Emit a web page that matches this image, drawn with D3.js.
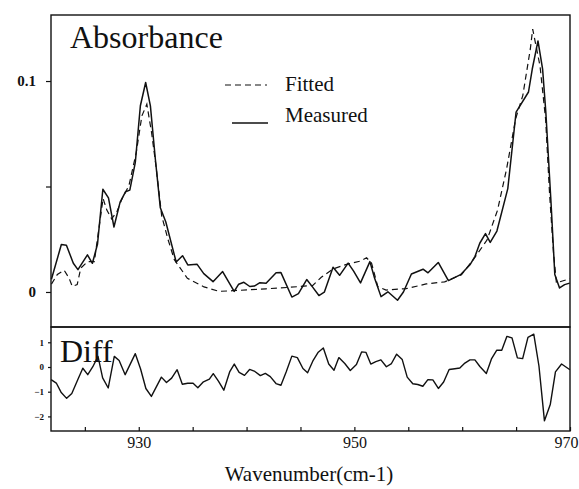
<!DOCTYPE html>
<html>
<head>
<meta charset="utf-8">
<script src="https://cdn.jsdelivr.net/npm/d3@7"></script>
<style>
  html, body { margin: 0; padding: 0; background: #fff; }
  svg { display: block; }
</style>
</head>
<body>
<svg id="chart" width="579" height="489"></svg>
<script>
// Measured absorbance spectrum (wavenumber in cm-1, absorbance)
const measuredX = [921.9, 922.82, 923.29, 923.93, 924.36, 925.24, 925.70, 926.17, 926.67, 927.19,
  927.70, 928.27, 928.77, 929.17, 929.68, 930.15, 930.64, 931.08, 931.54, 932.00,
  932.51, 933.47, 934.06, 934.55, 935.40, 936.03, 936.89, 937.78, 938.85, 939.27,
  939.75, 940.30, 940.72, 941.24, 941.81, 942.74, 943.19, 944.20, 944.81, 945.58,
  946.13, 946.71, 947.21, 948.02, 948.63, 949.42, 949.93, 950.57, 951.44, 951.87,
  952.47, 953.11, 954.00, 954.55, 955.29, 956.37, 956.83, 957.78, 958.72, 959.85,
  960.72, 961.19, 961.63, 962.16, 962.60, 963.22, 964.23, 965.00, 966.15, 966.50,
  967.03, 967.46, 967.76, 968.24, 968.59, 969.03, 969.50, 969.97];
const measuredY = [0.0060, 0.0225, 0.0222, 0.0136, 0.0106, 0.0176, 0.0136, 0.0226, 0.0487, 0.0446,
  0.0308, 0.0426, 0.0475, 0.0483, 0.0614, 0.0883, 0.0993, 0.0882, 0.0629, 0.0399,
  0.0332, 0.0142, 0.0172, 0.0128, 0.0132, 0.0087, 0.0049, 0.0097, 0.0003, 0.0037,
  0.0046, 0.0026, 0.0028, 0.0044, 0.0041, 0.0091, 0.0092, -0.0024, -0.0008, 0.0059,
  0.0023, -0.0017, -0.0001, 0.0117, 0.0079, 0.0137, 0.0099, 0.0043, 0.0144, 0.0066,
  -0.0022, 0.0001, -0.0039, 0.0000, 0.0085, 0.0108, 0.0091, 0.0140, 0.0054, 0.0082,
  0.0129, 0.0169, 0.0231, 0.0277, 0.0235, 0.0289, 0.0490, 0.0853, 0.0948, 0.1057,
  0.1190, 0.1056, 0.0850, 0.0423, 0.0083, 0.0019, 0.0035, 0.0042];

// Fitted absorbance model
const fittedX = [921.9, 922.45, 923.08, 923.53, 923.83, 924.29, 924.62, 925.26, 925.88, 926.22,
  926.69, 927.04, 927.48, 927.96, 928.45, 929.09, 929.77, 930.29, 930.75, 931.19,
  931.60, 932.13, 932.72, 933.30, 934.51, 936.05, 937.46, 938.70, 941.80, 943.97,
  946.14, 946.93, 948.01, 949.27, 950.51, 951.13, 951.59, 952.17, 952.94, 954.80,
  956.66, 958.37, 959.93, 961.03, 962.30, 963.28, 964.12, 964.96, 965.62, 966.32,
  966.54, 967.22, 967.74, 968.10, 968.47, 968.74, 969.67, 969.97];
const fittedY = [0.0037, 0.0083, 0.0103, 0.0066, 0.0027, 0.0035, 0.0113, 0.0144, 0.0144, 0.0270,
  0.0443, 0.0388, 0.0347, 0.0379, 0.0442, 0.0504, 0.0662, 0.0835, 0.0890, 0.0755,
  0.0597, 0.0360, 0.0248, 0.0153, 0.0065, 0.0024, 0.0003, 0.0006, 0.0015, 0.0022,
  0.0031, 0.0070, 0.0109, 0.0131, 0.0146, 0.0162, 0.0137, 0.0026, 0.0009, 0.0016,
  0.0038, 0.0048, 0.0082, 0.0153, 0.0246, 0.0388, 0.0584, 0.0821, 0.0931, 0.1152,
  0.1246, 0.1071, 0.0818, 0.0470, 0.0186, 0.0043, 0.0058, 0.0063];

// Residual (measured - fitted), scaled
const diffX = [921.87, 922.35, 922.79, 923.31, 923.79, 924.33, 924.81, 925.27, 925.74, 926.22,
  926.65, 927.17, 927.73, 928.18, 928.74, 929.68, 930.17, 930.66, 931.17, 932.10,
  932.57, 933.05, 933.56, 934.04, 934.54, 935.04, 935.48, 936.00, 936.55, 936.91,
  937.39, 937.89, 938.43, 938.86, 939.31, 939.81, 940.28, 940.77, 941.28, 941.74,
  942.20, 942.73, 943.19, 943.68, 944.20, 944.71, 945.23, 945.66, 946.18, 946.65,
  947.12, 947.62, 948.11, 948.56, 949.11, 949.62, 950.19, 950.67, 951.08, 951.52,
  951.99, 952.46, 952.97, 953.44, 953.92, 954.44, 954.90, 955.42, 955.88, 956.35,
  956.82, 957.28, 957.79, 958.28, 958.79, 959.32, 959.78, 960.25, 960.72, 961.18,
  961.64, 962.24, 962.73, 963.21, 963.67, 964.15, 964.62, 965.12, 965.61, 966.10,
  966.64, 967.12, 967.63, 968.17, 968.65, 969.22, 969.99];
const diffY = [-0.51, -0.65, -1.02, -1.27, -1.07, -0.53, -0.05, -0.31, 0.01, 0.43,
  -0.44, -0.85, 0.43, 0.26, -0.31, 0.54, -0.08, -0.87, -1.19, -0.41,
  -0.63, -0.45, -0.11, -0.70, -0.66, -0.66, -0.84, -0.60, -0.49, -0.27,
  -0.57, -0.94, -0.20, 0.12, -0.22, -0.34, -0.10, -0.18, -0.35, -0.26,
  -0.39, -0.67, -0.74, -0.19, 0.44, 0.38, -0.06, -0.23, 0.27, 0.60,
  0.77, 0.12, -0.13, 0.38, 0.14, -0.14, 0.10, 0.61, 0.59, 0.12,
  0.22, 0.29, 0.01, 0.14, 0.52, 0.30, -0.41, -0.68, -0.71, -0.78,
  -0.51, -0.52, -0.87, -0.61, -0.10, -0.07, -0.04, 0.16, 0.29, 0.29,
  0.02, -0.26, 0.34, 0.68, 0.68, 1.24, 1.18, 0.37, 0.34, 1.20,
  1.33, 0.04, -2.18, -1.52, -0.20, 0.12, -0.11];

// Axis ticks and labels
const xTicks = [925, 930, 935, 940, 945, 950, 955, 960, 965, 970];
const xTickLabels = [930, 950, 970];
const absTicks = [0, 0.05, 0.1];
const absTickLabels = [0, 0.1];
const diffTicks = [-2, -1, 0, 1];
const legendLabels = ["Fitted", "Measured"];

const SERIF = "Liberation Serif, Times New Roman, Times, serif";
const svg = d3.select("#chart").attr("font-family", SERIF);
const L = 51, R = 570, T = 15, M = 327, B = 431;

const x = d3.scaleLinear().domain([921.86, 970]).range([L, R]);
const yAbs = d3.scaleLinear().domain([-0.0166, 0.1313]).range([M, T]);
const yDiff = d3.scaleLinear().domain([-2.591, 1.619]).range([B, M]);

const ink = "#111";

// Panel frames
svg.append("rect").attr("x", L).attr("y", T).attr("width", R - L).attr("height", M - T)
  .attr("fill", "none").attr("stroke", ink).attr("stroke-width", 1.4);
svg.append("rect").attr("x", L).attr("y", M).attr("width", R - L).attr("height", B - M)
  .attr("fill", "none").attr("stroke", ink).attr("stroke-width", 1.4);

// Bottom axis: inward ticks every 5 cm-1, labels at 930/950/970
const xAxis = d3.axisBottom(x).tickValues(xTicks).tickSizeInner(-4).tickSizeOuter(0)
  .tickFormat(d => xTickLabels.includes(d) ? String(d) : "");
const gx = svg.append("g").attr("transform", `translate(0,${B})`).call(xAxis)
  .attr("font-family", SERIF);
gx.select(".domain").remove();
gx.selectAll("line").attr("stroke", ink).attr("stroke-width", 1.2);
gx.selectAll("text").attr("font-family", SERIF).attr("font-size", 16)
  .attr("fill", ink).attr("y", 17).attr("dy", 0)
  .attr("dx", d => d === 970 ? -4 : 0);

// Absorbance axis
const yAxisAbs = d3.axisLeft(yAbs).tickValues(absTicks).tickSizeInner(5).tickSizeOuter(0)
  .tickPadding(10)
  .tickFormat(d => absTickLabels.includes(d) ? String(d) : "");
const gya = svg.append("g").attr("transform", `translate(${L},0)`).call(yAxisAbs);
gya.select(".domain").remove();
gya.selectAll("line").attr("stroke", ink).attr("stroke-width", 1.2);
gya.selectAll("text").attr("font-family", SERIF).attr("font-size", 15)
  .attr("font-weight", "bold").attr("fill", ink);

// Diff axis
const yAxisDiff = d3.axisLeft(yDiff).tickValues(diffTicks).tickSizeInner(3).tickSizeOuter(0)
  .tickPadding(4).tickFormat(d3.format("d"));
const gyd = svg.append("g").attr("transform", `translate(${L},0)`).call(yAxisDiff);
gyd.select(".domain").remove();
gyd.selectAll("line").attr("stroke", ink).attr("stroke-width", 1.2);
gyd.selectAll("text").attr("font-family", SERIF).attr("font-size", 9)
  .attr("font-weight", "bold").attr("fill", ink);

// Curves
const toPoints = (xs, ys) => xs.map((v, i) => [v, ys[i]]);
const lineAbs = d3.line().x(d => x(d[0])).y(d => yAbs(d[1]));
const lineDiff = d3.line().x(d => x(d[0])).y(d => yDiff(d[1]));

svg.append("path").datum(toPoints(fittedX, fittedY)).attr("d", lineAbs)
  .attr("fill", "none").attr("stroke", ink).attr("stroke-width", 1.2)
  .attr("stroke-dasharray", "6,4");
svg.append("path").datum(toPoints(measuredX, measuredY)).attr("d", lineAbs)
  .attr("fill", "none").attr("stroke", ink).attr("stroke-width", 1.5)
  .attr("stroke-linejoin", "round");
svg.append("path").datum(toPoints(diffX, diffY)).attr("d", lineDiff)
  .attr("fill", "none").attr("stroke", ink).attr("stroke-width", 1.4)
  .attr("stroke-linejoin", "round");

// Panel titles
svg.append("text").attr("x", 70).attr("y", 48).attr("font-family", SERIF)
  .attr("font-size", 32).attr("fill", ink).text("Absorbance");
svg.append("text").attr("x", 60).attr("y", 362).attr("font-family", SERIF)
  .attr("font-size", 32).attr("fill", ink).text("Diff");

// Legend
const legend = svg.append("g").attr("font-family", SERIF);
legend.append("line").attr("x1", 225).attr("x2", 267).attr("y1", 85).attr("y2", 85)
  .attr("stroke", ink).attr("stroke-width", 1.2).attr("stroke-dasharray", "6,4");
legend.append("line").attr("x1", 232).attr("x2", 268).attr("y1", 123).attr("y2", 123)
  .attr("stroke", ink).attr("stroke-width", 1.5);
legend.append("text").attr("x", 285).attr("y", 91).attr("font-size", 21).attr("fill", ink)
  .text(legendLabels[0]);
legend.append("text").attr("x", 285).attr("y", 122).attr("font-size", 21).attr("fill", ink)
  .text(legendLabels[1]);

// Axis title
svg.append("text").attr("x", 309).attr("y", 481).attr("text-anchor", "middle")
  .attr("font-family", SERIF).attr("font-size", 21).attr("fill", ink)
  .text("Wavenumber(cm-1)");
</script>
</body>
</html>
